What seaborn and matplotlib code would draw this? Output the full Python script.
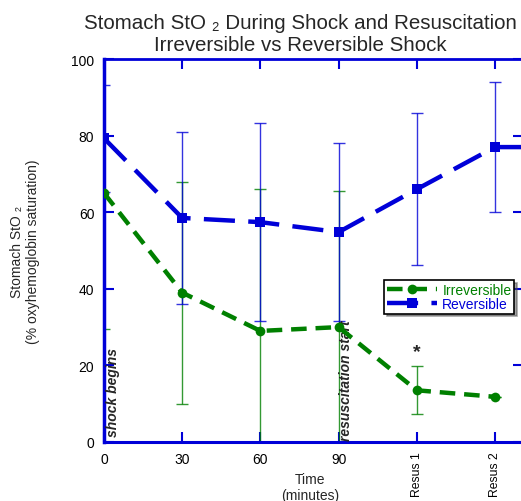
import matplotlib
matplotlib.use("Agg")
import matplotlib.pyplot as plt
import seaborn as sns
import pandas as pd
import numpy as np

# ---- data ----
time_labels = ["0", "30", "60", "90", "Resus 1", "Resus 2", "Resus 3"]
irreversible = [65.0, 39.0, 29.0, 30.0, 13.5, 11.8, np.nan]
irreversible_err = [35.5, 29.0, 37.0, 35.5, 6.3, 0.0, np.nan]
reversible = [79.3, 58.5, 57.4, 54.8, 66.0, 77.0, 77.0]
reversible_err = [14.0, 22.5, 25.8, 23.3, 19.8, 17.0, 17.0]
visible_ticks = ["0", "30", "60", "90", "Resus 1", "Resus 2"]

BLUE = "#0000d8"
GREEN = "#008000"

sns.set_theme(style="white")
plt.rcParams["font.family"] = ["Liberation Sans", "DejaVu Sans"]

W, H = 521, 502
fig = plt.figure(figsize=(W / 100, H / 100), dpi=100)
ax_left, ax_right, ax_top, ax_bot = 104, 523, 60, 443
ax = fig.add_axes([ax_left / W, (H - ax_bot) / H,
                   (ax_right - ax_left) / W, (ax_bot - ax_top) / H])

pos = np.arange(len(time_labels))
df = pd.DataFrame({
    "pos": np.concatenate([pos, pos]),
    "value": irreversible + reversible,
    "group": ["Irreversible"] * len(pos) + ["Reversible"] * len(pos),
})

# error bars
ax.errorbar(pos, irreversible, yerr=irreversible_err, fmt="none",
            ecolor=GREEN, elinewidth=1.0, capsize=4, capthick=1.0,
            alpha=0.8, zorder=2, clip_on=True)
ax.errorbar(pos, reversible, yerr=reversible_err, fmt="none",
            ecolor=BLUE, elinewidth=1.0, capsize=4, capthick=1.0,
            alpha=0.8, zorder=2, clip_on=True)

sns.lineplot(data=df[df.group == "Irreversible"], x="pos", y="value",
             ax=ax, color=GREEN, linewidth=3.2, marker="o", markersize=7,
             markeredgewidth=0, dashes=False, zorder=4, label="Irreversible")
sns.lineplot(data=df[df.group == "Reversible"], x="pos", y="value",
             ax=ax, color=BLUE, linewidth=3.2, marker="s", markersize=7,
             markeredgewidth=0, dashes=False, zorder=3, label="Reversible")
for ln in ax.get_lines():
    if ln.get_label() == "Irreversible":
        ln.set_dashes((3.5, 2.0))
    elif ln.get_label() == "Reversible":
        ln.set_dashes((7.0, 3.0))

ax.set_xlim(0, (ax_right - ax_left) / 78.2)
ax.set_ylim(0, 100)
ax.set_xticks(pos[:len(visible_ticks)])
ax.set_xticklabels(visible_ticks)
ax.set_yticks([0, 20, 40, 60, 80, 100])
ax.tick_params(axis="both", direction="in", length=7, width=1.5,
               color=BLUE, labelsize=10, labelcolor="black",
               top=True, right=True, bottom=True, left=True, pad=7)
ax.tick_params(axis="x", pad=7)
for lab in ax.get_xticklabels():
    if lab.get_text().startswith("Resus"):
        lab.set_rotation(90)
        lab.set_va("top")
        lab.set_fontsize(8.8)
for side in ["left", "bottom", "top", "right"]:
    ax.spines[side].set_color(BLUE)
ax.spines["left"].set_linewidth(2.5)
ax.spines["bottom"].set_linewidth(2.2)
ax.spines["top"].set_linewidth(2.0)
ax.spines["right"].set_linewidth(2.0)

ax.set_xlabel("Time\n(minutes)", fontsize=10, linespacing=1.15)
ax.xaxis.set_label_coords((310 - ax_left) / (ax_right - ax_left), -0.078)
ax.xaxis.label.set_va("top")
ax.set_ylabel("Stomach StO ₂\n(% oxyhemoglobin saturation)", fontsize=10,
              linespacing=1.15)
ax.yaxis.set_label_coords(-(ax_left - 40) / (ax_right - ax_left), 0.5)

# annotations
ax.text(0.12, 1.5, "shock begins", rotation=90, fontsize=10,
        fontweight="bold", fontstyle="italic", ha="center", va="bottom")
ax.text(3.1, 0.5, "resuscitation start", rotation=90, fontsize=10,
        fontweight="bold", fontstyle="italic", ha="center", va="bottom")
ax.text(4, 21.5, "*", fontsize=14, fontweight="bold", ha="center",
        va="bottom")

fig.text(300 / W, 1 - 14 / H,
         "Stomach StO ₂ During Shock and Resuscitation\nIrreversible vs Reversible Shock",
         ha="center", va="top", fontsize=14.8, linespacing=1.2)

leg = ax.legend(loc="upper left",
                bbox_to_anchor=((384 - ax_left) / (ax_right - ax_left), 0.423),
                fontsize=10, frameon=True, fancybox=False, shadow=True,
                edgecolor="black", handlelength=3.6, borderpad=0.2,
                labelspacing=0.0, handletextpad=0.4, borderaxespad=0)
leg.get_frame().set_linewidth(1.2)
for txt, col in zip(leg.get_texts(), [GREEN, BLUE]):
    txt.set_color(col)

fig.savefig("out.png", dpi=100)
